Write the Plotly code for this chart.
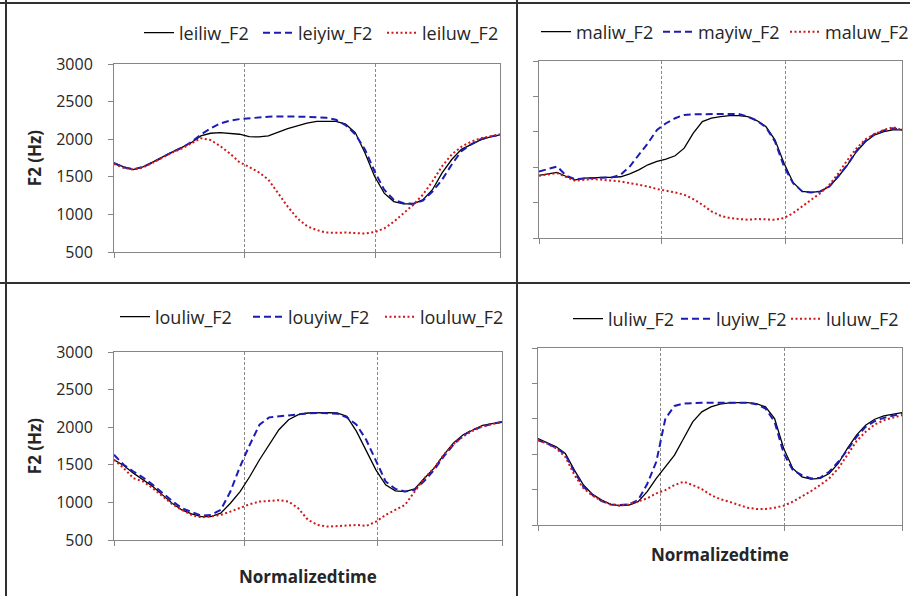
import plotly.graph_objects as go

# normalized time sampling positions (41 samples across the token)
norm_time = [i / 40 for i in range(41)]
# segment boundaries shown as dotted lines / ticks
segment_bounds = [0, 0.337, 0.678, 1]
y_ticks = [500, 1000, 1500, 2000, 2500, 3000]

# ---- panel 1: lei-
leiliw_F2 = [1686,1632,1596,1632,1695,1766,1829,1887,1954,2043,2079,2088,2079,2066,2034,2030,2043,2097,2142,2178,
             2214,2236,2240,2236,2200,2088,1820,1507,1283,1171,1140,1140,1193,1328,1551,1730,1865,1932,1990,2030,2057]
leiyiw_F2 = [1680,1625,1600,1630,1690,1760,1825,1885,1960,2061,2142,2209,2245,2267,2281,2290,2299,2303,2303,2303,
             2299,2290,2285,2258,2187,2066,1865,1574,1328,1193,1149,1140,1184,1305,1462,1663,1842,1932,1999,2034,2057]
leiluw_F2 = [1672,1619,1596,1623,1686,1753,1820,1874,1945,2012,1990,1909,1811,1695,1632,1560,1462,1283,1104,947,
             844,791,759,755,759,751,746,764,813,903,1015,1126,1261,1440,1641,1797,1900,1967,2012,2043,2066]

# ---- panel 2: ma-
maliw_F2 = [1383,1402,1426,1369,1322,1346,1355,1355,1355,1365,1407,1463,1534,1581,1614,1661,1769,1980,2145,2192,
            2215,2229,2229,2215,2159,2074,1886,1557,1285,1158,1144,1158,1228,1369,1534,1722,1863,1957,2004,2027,2027]
mayiw_F2 = [1440,1473,1510,1379,1332,1341,1351,1351,1355,1393,1510,1675,1839,2027,2121,2192,2239,2248,2248,2248,
            2253,2253,2253,2215,2159,2065,1863,1510,1275,1158,1144,1158,1228,1379,1534,1736,1877,1971,2018,2051,2027]
maluw_F2 = [1379,1393,1416,1360,1308,1322,1332,1322,1313,1299,1275,1252,1228,1191,1172,1144,1111,1050,970,876,
            815,782,768,758,768,758,758,782,852,946,1040,1134,1252,1416,1604,1769,1896,1971,2027,2065,2027]

# ---- panel 3: lou-
louliw_F2 = [1567,1491,1389,1300,1211,1100,989,900,847,811,811,856,989,1144,1344,1567,1767,1967,2100,2167,
             2189,2193,2193,2189,2144,1944,1678,1433,1233,1153,1144,1180,1322,1456,1633,1789,1900,1967,2024,2047,2069]
louyiw_F2 = [1633,1500,1411,1331,1233,1122,1020,922,878,824,833,900,1144,1478,1767,2033,2131,2144,2158,2176,
             2184,2189,2189,2180,2131,2033,1833,1544,1278,1180,1144,1167,1287,1433,1611,1767,1891,1967,2011,2047,2069]
louluw_F2 = [1567,1456,1322,1278,1189,1078,976,900,833,798,811,833,878,931,976,1011,1020,1029,1011,922,
             767,700,678,687,700,700,687,744,833,900,967,1144,1322,1456,1633,1776,1878,1953,2011,2042,2069]

# ---- panel 4: lu-
luliw_F2 = [1722,1665,1604,1510,1275,1064,932,852,791,773,782,829,970,1158,1322,1487,1722,1957,2098,2168,
            2206,2225,2229,2229,2215,2168,2004,1581,1299,1181,1148,1158,1228,1369,1581,1769,1910,1994,2041,2065,2088]
luyiw_F2 = [1698,1651,1590,1496,1252,1040,923,838,791,782,791,852,1080,1393,2004,2182,2215,2225,2225,2225,
            2225,2225,2225,2225,2206,2145,1957,1510,1275,1205,1158,1167,1252,1393,1557,1745,1886,1966,2013,2041,2074]
luluw_F2 = [1698,1651,1581,1463,1205,1017,914,838,791,773,791,829,876,946,993,1064,1111,1064,1007,923,
            866,829,782,744,726,726,744,773,829,899,979,1064,1158,1299,1487,1684,1816,1919,1980,2013,2051]

panels = [
    (["leiliw_F2", "leiyiw_F2", "leiluw_F2"], [leiliw_F2, leiyiw_F2, leiluw_F2]),
    (["maliw_F2", "mayiw_F2", "maluw_F2"], [maliw_F2, mayiw_F2, maluw_F2]),
    (["louliw_F2", "louyiw_F2", "louluw_F2"], [louliw_F2, louyiw_F2, louluw_F2]),
    (["luliw_F2", "luyiw_F2", "luluw_F2"], [luliw_F2, luyiw_F2, luluw_F2]),
]

W, H = 910, 596
def px(x): return x / W
def py(y): return 1 - y / H

# plot-area boxes in pixels: (left, right, top, bottom)
boxes = [(114, 500, 64, 252), (539, 902, 61, 238), (114, 502, 352, 540), (538, 902, 348, 525)]
legend_pos = [(139, 33), (536, 32), (115, 317), (568, 319)]
legend_entry_w = [(74, 79, 82), (77, 82, 80), (88, 87, 86), (63, 65, 72)]
xtitle_pos = {3: (308, 576), 4: (720, 554)}

styles = [
    dict(color="#000000", width=1.3, dash="solid"),
    dict(color="#1C1CB4", width=2, dash="7px,4px"),
    dict(color="#D01818", width=2, dash="2px,2.5px"),
]

FONT = "Open Sans"
TXT = "#262626"
fig = go.Figure()
layout = dict(width=W, height=H, autosize=False, margin=dict(l=0, r=0, t=0, b=0, pad=0, autoexpand=False),
              paper_bgcolor="white", plot_bgcolor="white", showlegend=True,
              font=dict(family=FONT, size=16, color=TXT))
annotations = []

for i, (names, series) in enumerate(panels):
    k = i + 1
    xa = "x" if k == 1 else f"x{k}"
    ya = "y" if k == 1 else f"y{k}"
    lg = "legend" if k == 1 else f"legend{k}"
    for name, vals, st, lw in zip(names, series, styles, legend_entry_w[i]):
        fig.add_trace(go.Scatter(x=norm_time, y=vals, mode="lines", name=name,
                                 line=st, xaxis=xa, yaxis=ya, legend=lg, legendwidth=lw))
    l, r, t, b = boxes[i]
    xkey = "xaxis" if k == 1 else f"xaxis{k}"
    ykey = "yaxis" if k == 1 else f"yaxis{k}"
    layout[xkey] = dict(domain=[px(l), px(r)], range=[0, 1], anchor=ya, automargin=False,
                        tickvals=segment_bounds, showticklabels=False,
                        ticks="outside", ticklen=5, tickcolor="#868686",
                        showgrid=True, gridcolor="#8a8a8a", gridwidth=1, griddash="3px,2px",
                        zeroline=False, showline=True, linecolor="#868686", linewidth=1, mirror=True)
    show_lab = k in (1, 3)
    layout[ykey] = dict(domain=[py(b), py(t)], range=[500, 3000], anchor=xa, automargin=False,
                        tickvals=y_ticks, showticklabels=show_lab,
                        ticks="outside", ticklen=5, tickcolor="#868686",
                        ticklabelstandoff=12,
                        tickfont=dict(family=FONT, size=16, color=TXT),
                        showgrid=False, zeroline=False, showline=True,
                        linecolor="#868686", linewidth=1, mirror=True)
    if show_lab:
        layout[ykey]["title"] = dict(text="<b>F2 (Hz)</b>", font=dict(family=FONT, size=17, color=TXT),
                                     standoff=10)
    if k in (3, 4):
        tx, ty = xtitle_pos[k]
        annotations.append(dict(text="<b>Normalizedtime</b>", xref="paper", yref="paper",
                                x=px(tx), y=py(ty), xanchor="center", yanchor="middle",
                                showarrow=False, font=dict(family=FONT, size=17, color=TXT)))
    lx, ly = legend_pos[i]
    layout[lg] = dict(orientation="h", x=px(lx), y=py(ly), xanchor="left", yanchor="middle",
                      xref="container", yref="container", bgcolor="rgba(0,0,0,0)",
                      font=dict(family=FONT, size=18, color=TXT), itemwidth=30,
                      tracegroupgap=0, entrywidthmode="pixels")

# panel frame lines
frame = dict(type="line", xref="paper", yref="paper", line=dict(color="#303030", width=2))
layout["shapes"] = [
    dict(frame, x0=px(6), x1=px(6), y0=0, y1=1),
    dict(frame, x0=0, x1=1, y0=py(3), y1=py(3)),
    dict(frame, x0=px(517), x1=px(517), y0=0, y1=1),
    dict(frame, x0=0, x1=1, y0=py(283), y1=py(283)),
]
layout["annotations"] = annotations
fig.update_layout(**layout)
fig.write_html("out.html")
